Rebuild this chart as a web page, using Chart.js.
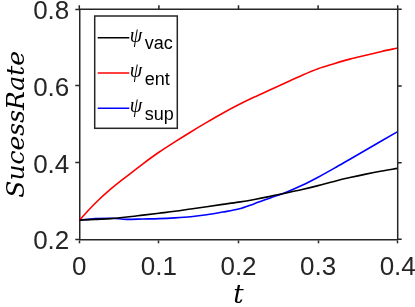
<!DOCTYPE html>
<html><head><meta charset="utf-8">
<script src="https://cdn.jsdelivr.net/npm/chart.js@4/dist/chart.umd.min.js"></script>
<style>html,body{margin:0;padding:0;background:#fff}#wrap{width:415px;height:307px;position:relative}</style>
</head><body><div id="wrap"><canvas id="c"></canvas></div>
<script>
const tValues   = [0,0.02,0.04,0.06,0.08,0.10,0.12,0.14,0.16,0.18,0.20,0.22,0.24,0.26,0.28,0.30,0.32,0.34,0.36,0.38,0.40];
const vacValues = [0.250,0.252,0.254,0.258,0.263,0.268,0.273,0.279,0.285,0.291,0.297,0.304,0.312,0.321,0.330,0.340,0.351,0.361,0.370,0.378,0.385];
const entValues = [0.250,0.294,0.332,0.365,0.397,0.427,0.454,0.480,0.505,0.529,0.551,0.571,0.590,0.609,0.628,0.645,0.658,0.670,0.680,0.690,0.699];
const supValues = [0.250,0.254,0.255,0.252,0.253,0.254,0.256,0.259,0.264,0.271,0.279,0.293,0.308,0.323,0.341,0.362,0.385,0.409,0.433,0.457,0.481];
const xTickValues = [0,0.1,0.2,0.3,0.4];
const yTickValues = [0.2,0.4,0.6,0.8];
const seriesSubs = ['vac','ent','sup'];

const AX = '#262626';
const pts = arr => tValues.map((t,i)=>({x:t,y:arr[i]}));

const framePlugin = {
  id:'frame',
  afterDraw(chart){
    const ctx = chart.ctx, a = chart.chartArea;
    const xs = chart.scales.x, ys = chart.scales.y;
    ctx.save();
    ctx.strokeStyle = AX; ctx.lineWidth = 1.5;
    ctx.beginPath();
    ctx.moveTo(a.left, a.top); ctx.lineTo(a.right, a.top); ctx.lineTo(a.right, a.bottom);
    xTickValues.forEach(v=>{const p=xs.getPixelForValue(v); ctx.moveTo(p,a.top); ctx.lineTo(p,a.top-4);});
    yTickValues.forEach(v=>{const p=ys.getPixelForValue(v); ctx.moveTo(a.right,p); ctx.lineTo(a.right+4,p);});
    ctx.stroke();
    // legend
    const L = a.left + 15.4, T = a.top + 6.7, W = 82.6, H = 112.3;
    ctx.fillStyle = '#fff';
    ctx.fillRect(L, T, W, H);
    ctx.strokeStyle = AX; ctx.lineWidth = 1.5;
    ctx.strokeRect(L, T, W, H);
    chart.data.datasets.forEach((ds,i)=>{
      const yy = T + 21.7 + i*35.3;
      ctx.strokeStyle = ds.borderColor; ctx.lineWidth = 1.6;
      ctx.beginPath(); ctx.moveTo(L+3, yy); ctx.lineTo(L+34.6, yy); ctx.stroke();
      ctx.fillStyle = '#000';
      ctx.textBaseline = 'alphabetic'; ctx.textAlign = 'left';
      ctx.font = 'italic 20px "Liberation Serif"';
      ctx.fillText('\u03C8', L+35, yy+4);
      ctx.font = '18px "Liberation Sans"';
      ctx.fillText(seriesSubs[i], L+50, yy+11.6);
    });
    ctx.restore();
  }
};

new Chart(document.getElementById('c'), {
  type:'line',
  data:{datasets:[
    {label:'\u03C8vac', data:pts(vacValues), borderColor:'#000000'},
    {label:'\u03C8ent', data:pts(entValues), borderColor:'#ff0000'},
    {label:'\u03C8sup', data:pts(supValues), borderColor:'#0000ff'}
  ]},
  options:{
    responsive:true, maintainAspectRatio:false, animation:false,
    devicePixelRatio:1,
    layout:{padding:{top:9.3,right:17.3,left:0,bottom:0}},
    elements:{point:{radius:0}, line:{borderWidth:1.6, cubicInterpolationMode:'monotone'}},
    plugins:{legend:{display:false}, tooltip:{enabled:false}},
    scales:{
      x:{type:'linear', min:0, max:0.4,
        afterBuildTicks:s=>{s.ticks = xTickValues.map(v=>({value:v}));},
        afterFit:s=>{s.height = 67.7; s.paddingLeft=0; s.paddingRight=0;},
        ticks:{font:{family:'Liberation Sans', size:26}, color:AX, padding:9, maxRotation:0,
          callback:v=> v===0 ? '0' : String(v)},
        grid:{drawOnChartArea:false, drawTicks:true, tickLength:4, tickColor:AX, tickWidth:1.5},
        border:{color:AX, width:1.5},
        title:{display:true, text:'t', font:{family:'DejaVu Serif', style:'italic', size:26, lineHeight:1}, color:'#000', padding:{top:0,bottom:-2.5}}
      },
      y:{type:'linear', min:0.2, max:0.8,
        afterBuildTicks:s=>{s.ticks = yTickValues.map(v=>({value:v}));},
        afterFit:s=>{s.width = 79.3; s.paddingTop=0; s.paddingBottom=0;},
        ticks:{font:{family:'Liberation Sans', size:26}, color:AX, padding:6, labelOffset:3,
          callback:v=> v.toFixed(1)},
        grid:{drawOnChartArea:false, drawTicks:true, tickLength:4, tickColor:AX, tickWidth:1.5},
        border:{color:AX, width:1.5},
        title:{display:true, text:'SucessRate', font:{family:'DejaVu Serif', style:'italic', size:25}, color:'#000', padding:{top:2,bottom:0}}
      }
    }
  },
  plugins:[framePlugin]
});
</script></body></html>
